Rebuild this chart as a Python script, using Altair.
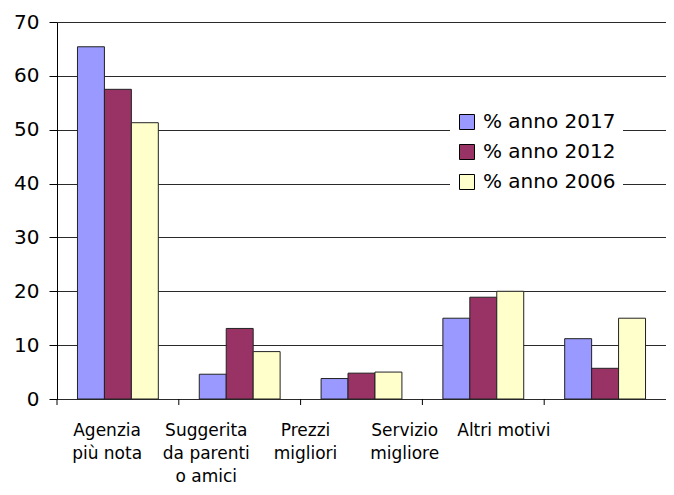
import altair as alt
import pandas as pd

categories = ["Agenzia\npiù nota", "Suggerita\nda parenti\no amici", "Prezzi\nmigliori",
              "Servizio\nmigliore", "Altri motivi"]
series = ["% anno 2017", "% anno 2012", "% anno 2006"]
v2017 = [65.4, 4.6, 3.8, 15.0, 11.2]
v2012 = [57.5, 13.1, 4.8, 18.9, 5.7]
v2006 = [51.3, 8.8, 5.0, 20.0, 15.0]
colors = ["#9999FF", "#993366", "#FFFFCC"]
y_ticks = [0, 10, 20, 30, 40, 50, 60, 70]

rows = []
for s, vals in zip(series, [v2017, v2012, v2006]):
    for c, v in zip(categories, vals):
        rows.append({"cat": c, "series": s, "value": v})
df = pd.DataFrame(rows)
cats_df = pd.DataFrame({"cat": categories})

FONT = "DejaVu Sans"
H = 377

bars = alt.Chart(df).mark_bar(stroke="#222222", strokeWidth=1).encode(
    x=alt.X("cat:N", sort=categories, scale=alt.Scale(paddingInner=0, paddingOuter=0), axis=None),
    xOffset=alt.XOffset("series:N", sort=series, scale=alt.Scale(paddingInner=0, paddingOuter=0.76)),
    y=alt.Y("value:Q", scale=alt.Scale(domain=[0, 70], nice=False),
            axis=alt.Axis(values=y_ticks, title=None, grid=True, gridColor="#2a2a2a",
                          domainColor="black", tickColor="black", tickSize=8,
                          labelFont=FONT, labelFontSize=20, labelColor="black",
                          labelPadding=10)),
    color=alt.Color("series:N", sort=series,
                    scale=alt.Scale(domain=series, range=colors),
                    legend=alt.Legend(title=None, orient="none", legendX=393, legendY=83,
                                      fillColor="white", padding=7, symbolType="square",
                                      symbolSize=225, symbolStrokeColor="black",
                                      symbolStrokeWidth=1, labelFont=FONT, labelFontSize=20,
                                      labelColor="black", labelOffset=6, rowPadding=10)),
)

ticks = alt.Chart(cats_df).mark_rule(color="black", strokeWidth=1).encode(
    x=alt.X("cat:N", sort=categories, bandPosition=0,
            scale=alt.Scale(paddingInner=0, paddingOuter=0), axis=None),
    y=alt.value(H),
    y2=alt.value(H + 6),
)

labels = alt.Chart(cats_df).mark_point(opacity=0).encode(
    x=alt.X("cat:N", sort=categories,
            scale=alt.Scale(range=[0, 496], paddingInner=0, paddingOuter=0),
            axis=alt.Axis(title=None, domain=False, ticks=False, labelAngle=0,
                          labelExpr="split(datum.label, '\\n')",
                          labelFont=FONT, labelFontSize=17, labelColor="black",
                          labelLineHeight=23, labelPadding=23)),
    y=alt.value(0),
)

chart = alt.layer(bars, ticks, labels).resolve_scale(x="independent").properties(
    width=609, height=H,
    autosize=alt.AutoSizeParams(type="none"),
    padding={"left": 49, "top": 14, "right": 0, "bottom": 88},
    background="white",
).configure_view(stroke=None)

chart.save("out.html", embed_options={"renderer": "svg", "actions": False})
